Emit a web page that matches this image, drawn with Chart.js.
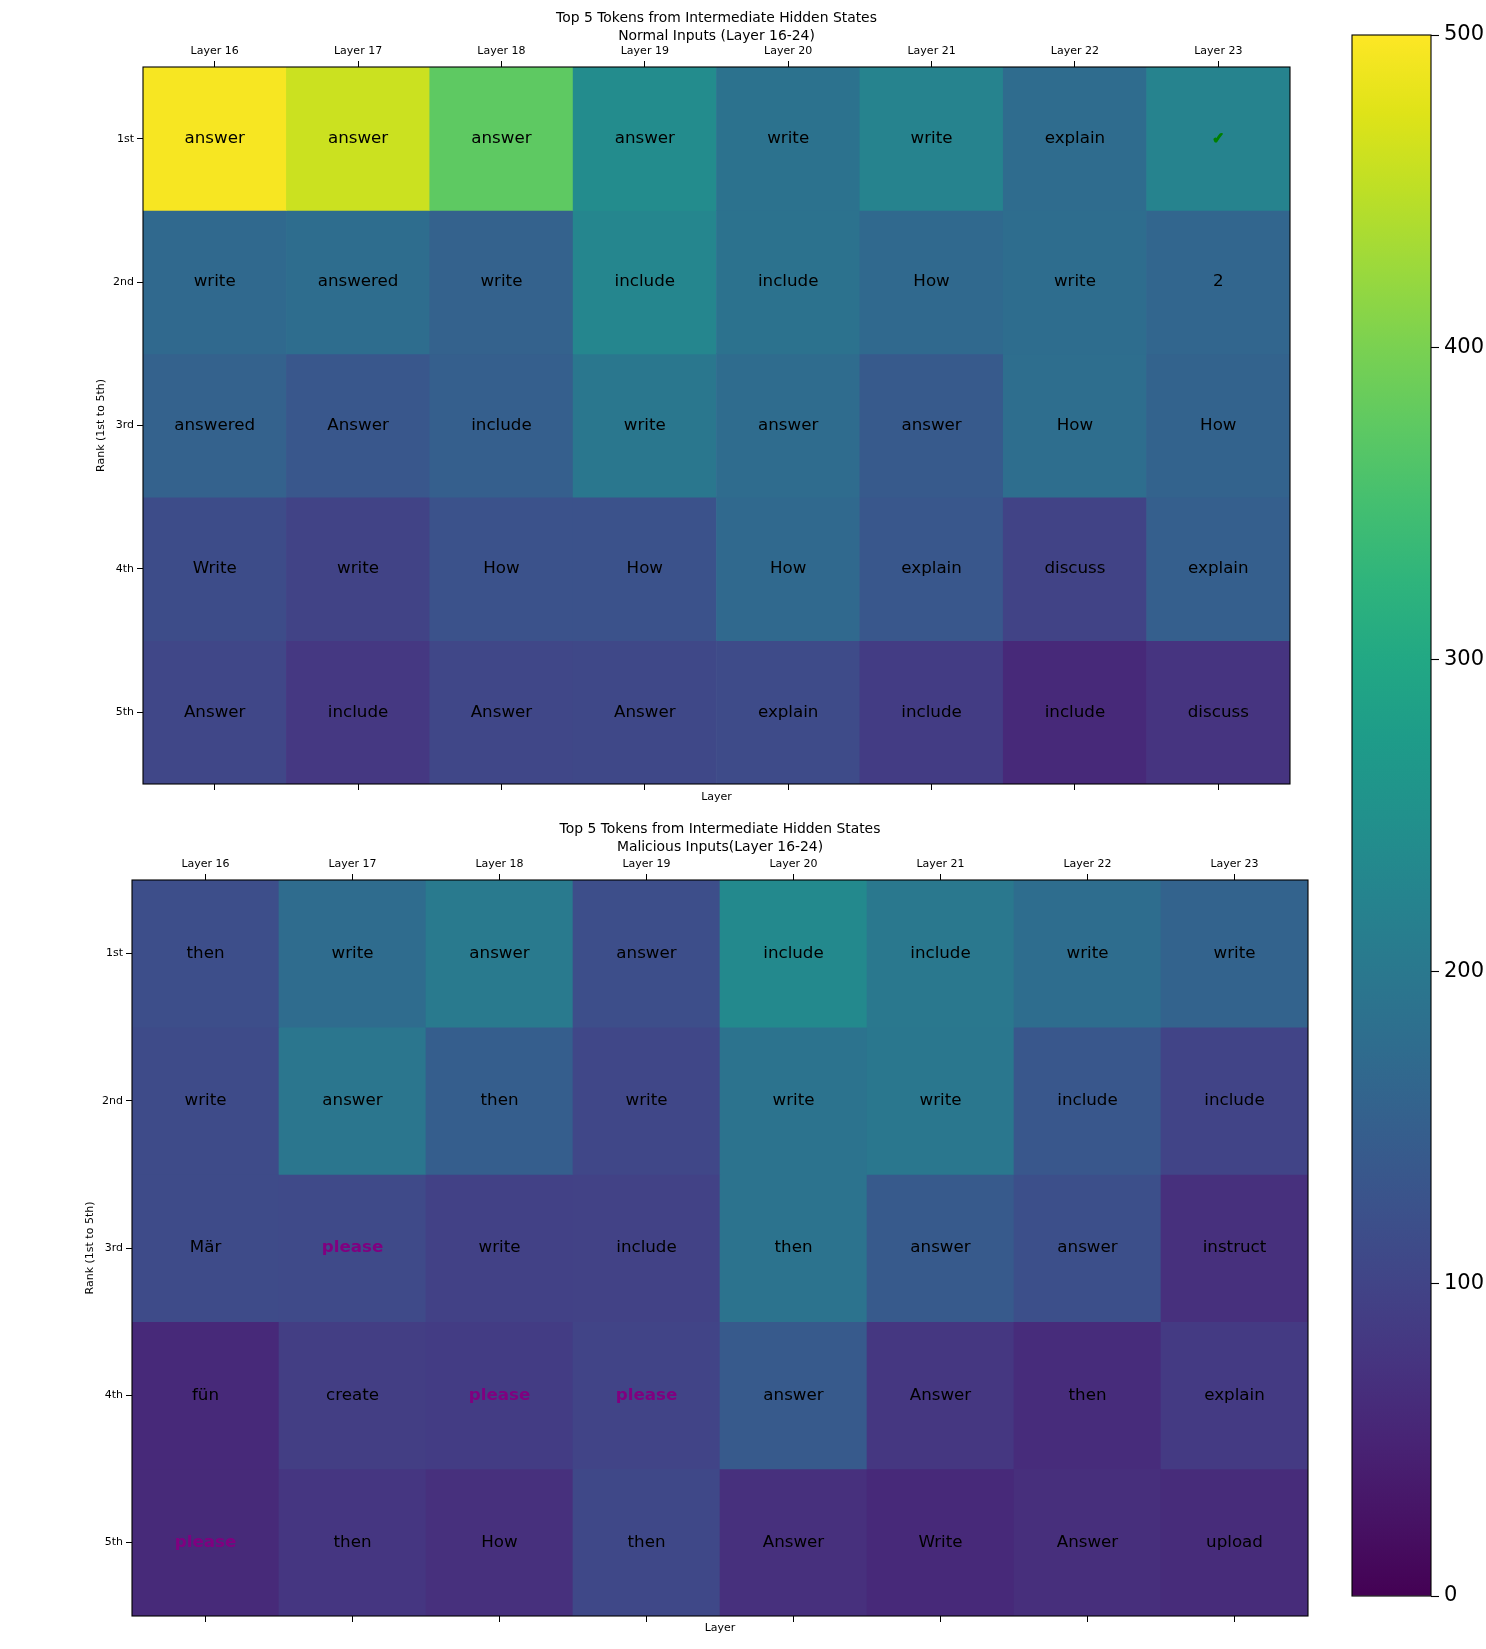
<!DOCTYPE html>
<html><head><meta charset="utf-8">
<script src="https://cdn.jsdelivr.net/npm/chart.js@4.4.0/dist/chart.umd.min.js"></script>
<style>
html,body{margin:0;padding:0;background:#fff;width:1486px;height:1649px;overflow:hidden;position:relative}
canvas{position:absolute}
</style></head><body>
<canvas id="topChart" width="1300" height="820" style="left:0;top:0"></canvas>
<canvas id="bottomChart" width="1330" height="849" style="left:0;top:800px"></canvas>
<canvas id="cbar" width="151" height="1601" style="left:1335px;top:0"></canvas>
<script>
const layerLabels = ['Layer 16','Layer 17','Layer 18','Layer 19','Layer 20','Layer 21','Layer 22','Layer 23'];
const rankLabels = ['1st','2nd','3rd','4th','5th'];
const flaggedToken = 'please';
const checkToken = '✓';

const normalTokens = [
  ['answer','answer','answer','answer','write','write','explain','✓'],
  ['write','answered','write','include','include','How','write','2'],
  ['answered','Answer','include','write','answer','answer','How','How'],
  ['Write','write','How','How','How','explain','discuss','explain'],
  ['Answer','include','Answer','Answer','explain','include','include','discuss']
];
const normalValues = [
  [495, 460, 375, 240, 188, 222, 176, 222],
  [170, 178, 155, 228, 188, 170, 178, 163],
  [155, 135, 150, 198, 175, 140, 180, 157],
  [115, 98, 125, 125, 170, 135, 98, 150],
  [105, 82, 105, 107, 113, 88, 58, 75]
];

const maliciousTokens = [
  ['then','write','answer','answer','include','include','write','write'],
  ['write','answer','then','write','write','write','include','include'],
  ['Mär','please','write','include','then','answer','answer','instruct'],
  ['fün','create','please','please','answer','Answer','then','explain'],
  ['please','then','How','then','Answer','Write','Answer','upload']
];
const maliciousValues = [
  [118, 175, 205, 118, 235, 200, 178, 158],
  [112, 195, 148, 105, 190, 198, 135, 100],
  [112, 110, 95, 97, 190, 140, 120, 68],
  [58, 90, 88, 100, 140, 80, 63, 85],
  [60, 78, 68, 107, 68, 58, 67, 62]
];

const colorbarTicks = [0, 100, 200, 300, 400, 500];
const vmin = 0, vmax = 500;

const VIRIDIS = ['#440154','#471365','#482475','#463480','#414487','#3b528b','#355f8d','#2f6c8e','#2a788e','#25848e','#21918c','#1e9c89','#22a884','#2fb47c','#44bf70','#5ec962','#7ad151','#9bd93c','#bddf26','#dfe318','#fde725'];
function hexRgb(h){return [parseInt(h.slice(1,3),16),parseInt(h.slice(3,5),16),parseInt(h.slice(5,7),16)];}
function viridis(v){
  let t = (v - vmin) / (vmax - vmin); t = Math.max(0, Math.min(1, t));
  const pos = t * (VIRIDIS.length - 1); const i = Math.min(Math.floor(pos), VIRIDIS.length - 2); const f = pos - i;
  const a = hexRgb(VIRIDIS[i]), b = hexRgb(VIRIDIS[i+1]);
  return 'rgb(' + a.map((c,k)=>Math.round(c + (b[k]-c)*f)).join(',') + ')';
}

Chart.defaults.font.family = '"DejaVu Sans", sans-serif';
Chart.defaults.color = '#000';

const heatDecor = {
  id: 'heatDecor',
  afterDatasetsDraw(chart, args, o) {
    const ctx = chart.ctx, a = chart.chartArea;
    ctx.save();
    ctx.textAlign = 'center'; ctx.textBaseline = 'middle';
    chart.data.datasets.forEach((ds, di) => {
      chart.getDatasetMeta(di).data.forEach((el, i) => {
        const tok = ds.tokens[i];
        const p = el.getProps(['x','y','base'], true);
        const cy = (p.y + p.base) / 2;
        if (tok === flaggedToken) {
          ctx.font = 'bold 16.7px "DejaVu Sans"'; ctx.fillStyle = '#800080';
          ctx.fillText(tok, p.x, cy);
        } else if (tok === checkToken) {
          ctx.font = 'bold 15px "DejaVu Sans"'; ctx.fillStyle = '#008000'; ctx.strokeStyle = '#008000'; ctx.lineWidth = 1.6;
          ctx.strokeText(tok, p.x, cy); ctx.fillText(tok, p.x, cy);
        } else {
          ctx.font = '16.7px "DejaVu Sans"'; ctx.fillStyle = '#000';
          ctx.fillText(tok, p.x, cy);
        }
      });
    });
    ctx.strokeStyle = '#000'; ctx.lineWidth = 1.1;
    ctx.strokeRect(a.left, a.top, a.right - a.left, a.bottom - a.top);
    ctx.font = '13.9px "DejaVu Sans"'; ctx.fillStyle = '#000';
    const cx = (a.left + a.right) / 2;
    o.title.forEach((t, k) => ctx.fillText(t, cx, o.titleY[k]));
    ctx.restore();
  }
};

function makeHeatmap(id, tokens, values, cfg) {
  const tickGrid = {drawOnChartArea:false, drawTicks:true, tickLength:6, tickColor:'#000', tickWidth:1, offset:false};
  return new Chart(document.getElementById(id), {
    type: 'bar',
    data: {
      labels: layerLabels,
      datasets: rankLabels.map((rk, r) => ({
        label: rk,
        data: layerLabels.map(() => [r, r + 1]),
        tokens: tokens[r],
        backgroundColor: values[r].map(v => viridis(v)),
        borderWidth: 0,
        barPercentage: 1, categoryPercentage: 1, grouped: false
      }))
    },
    options: {
      responsive: false, animation: false, events: [],
      layout: {padding: {left: 0, right: cfg.padRight, top: 0, bottom: 0}},
      plugins: {legend:{display:false}, tooltip:{enabled:false}, heatDecor: {title: cfg.title, titleY: cfg.titleY}},
      scales: {
        x: {type:'category', position:'bottom', offset:true, grid: tickGrid, border:{display:false},
            ticks:{display:false},
            title:{display:true, text:'Layer', font:{size:11}, padding:{top:0, bottom:cfg.xTitlePad}},
            afterFit: s => { s.height = cfg.xH; }},
        x2: {type:'category', labels: layerLabels, position:'top', offset:true, bounds:'ticks', grid: tickGrid, border:{display:false},
            ticks:{font:{size:11}, padding:3, maxRotation:0, autoSkip:false},
            afterFit: s => { s.height = cfg.x2H; }},
        y: {type:'linear', min:0, max:rankLabels.length, reverse:true,
            afterBuildTicks: ax => { ax.ticks = rankLabels.map((_, i) => ({value: i + 0.5})); },
            ticks:{font:{size:11}, padding:3, callback: v => rankLabels[Math.floor(v)]},
            grid: tickGrid, border:{display:false},
            title:{display:true, text:'Rank (1st to 5th)', font:{size:11}, padding:{top:cfg.yTitlePad, bottom:0}},
            afterFit: s => { s.width = cfg.yW; }}
      }
    },
    plugins: [heatDecor]
  });
}

makeHeatmap('topChart', normalTokens, normalValues, {
  padRight: 10, xH: 36, x2H: 67, yW: 143, xTitlePad: 16.4, yTitlePad: 95,
  title: ['Top 5 Tokens from Intermediate Hidden States', 'Normal Inputs (Layer 16-24)'], titleY: [18, 36]
});
makeHeatmap('bottomChart', maliciousTokens, maliciousValues, {
  padRight: 22, xH: 33, x2H: 80, yW: 132, xTitlePad: 14.4, yTitlePad: 83.4,
  title: ['Top 5 Tokens from Intermediate Hidden States', 'Malicious Inputs(Layer 16-24)'], titleY: [29, 47]
});

const cbFrame = {
  id: 'cbFrame',
  afterDatasetsDraw(chart) {
    const ctx = chart.ctx, a = chart.chartArea;
    ctx.save(); ctx.strokeStyle = '#000'; ctx.lineWidth = 1.1;
    ctx.strokeRect(a.left, a.top, a.right - a.left, a.bottom - a.top);
    ctx.restore();
  }
};
function cbGradient(c) {
  const chart = c.chart; const y = chart.scales.y;
  if (!chart.chartArea || !y) return VIRIDIS[0];
  const g = chart.ctx.createLinearGradient(0, y.getPixelForValue(vmin), 0, y.getPixelForValue(vmax));
  VIRIDIS.forEach((col, i) => g.addColorStop(i / (VIRIDIS.length - 1), col));
  return g;
}
new Chart(document.getElementById('cbar'), {
  type: 'bar',
  data: {labels: [''], datasets: [{data: [[colorbarTicks[0], colorbarTicks[colorbarTicks.length - 1]]], backgroundColor: cbGradient, borderWidth: 0, barPercentage: 1, categoryPercentage: 1}]},
  options: {
    responsive: false, animation: false, events: [],
    layout: {padding: {left: 17, right: 0, top: 35, bottom: 5}},
    plugins: {legend:{display:false}, tooltip:{enabled:false}},
    scales: {
      x: {display:false},
      y: {position:'right', min:vmin, max:vmax,
          afterBuildTicks: ax => { ax.ticks = colorbarTicks.map(v => ({value: v})); },
          ticks:{font:{size:21}, padding:5},
          grid:{drawOnChartArea:false, drawTicks:true, tickLength:8, tickColor:'#000', tickWidth:1.1},
          border:{display:false},
          afterFit: s => { s.width = 55; s.paddingTop = 0; s.paddingBottom = 0; }}
    }
  },
  plugins: [cbFrame]
});
</script>
</body></html>
